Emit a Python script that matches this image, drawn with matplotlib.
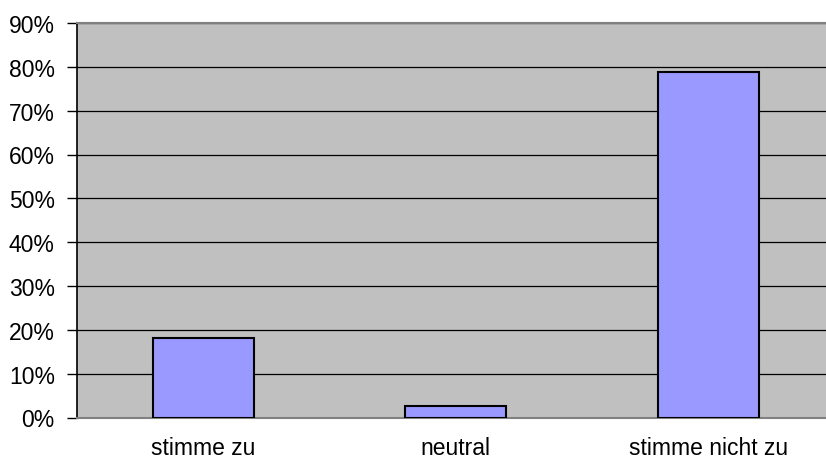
import matplotlib
matplotlib.use("Agg")
import matplotlib.pyplot as plt
from matplotlib.ticker import FuncFormatter

categories = ["stimme zu", "neutral", "stimme nicht zu"]
shares = [18.2, 2.7, 78.8]
y_ticks = [0, 10, 20, 30, 40, 50, 60, 70, 80, 90]

plt.rcParams["font.family"] = ["Liberation Sans", "DejaVu Sans"]

fig = plt.figure(figsize=(8.26, 4.6), dpi=100)
ax = fig.add_axes([77 / 826, 41.5 / 460, 757.5 / 826, 394.5 / 460])
ax.set_facecolor("#C0C0C0")

x = list(range(len(categories)))
ax.bar(x, shares, width=0.4, color="#9999FF", edgecolor="black", linewidth=1.5, zorder=3)

ax.set_xlim(-0.5, 2.5)
ax.set_ylim(0, 90)
ax.set_yticks(y_ticks)
ax.yaxis.set_major_formatter(FuncFormatter(lambda v, _: f"{v:.0f}%"))
ax.set_xticks(x)
ax.set_xticklabels(categories)
ax.grid(axis="y", color="black", linewidth=0.9, zorder=1)
ax.set_axisbelow(True)

ax.tick_params(axis="y", direction="out", length=7, width=1, labelsize=16.5, pad=9)
ax.tick_params(axis="x", length=0, labelsize=16.5, pad=13)

for side in ("top", "right", "bottom"):
    ax.spines[side].set_color("#808080")
    ax.spines[side].set_linewidth(1.5)
ax.spines["left"].set_color("black")
ax.spines["left"].set_linewidth(1.2)

fig.savefig("out.png", dpi=100)
